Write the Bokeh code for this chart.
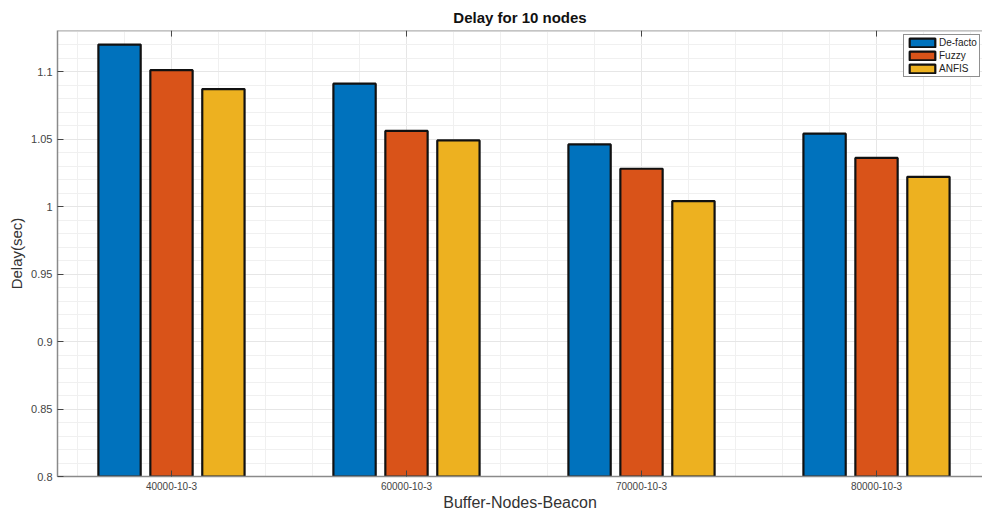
import numpy as np
from bokeh.plotting import figure
from bokeh.models import Range1d, FixedTicker, Legend, LegendItem, ColumnDataSource
from bokeh.embed import file_html
from bokeh.resources import INLINE

categories = ["40000-10-3", "60000-10-3", "70000-10-3", "80000-10-3"]
series_names = ["De-facto", "Fuzzy", "ANFIS"]
defacto = [1.120, 1.091, 1.046, 1.054]
fuzzy = [1.101, 1.056, 1.028, 1.036]
anfis = [1.087, 1.049, 1.004, 1.022]
colors = ["#0072BD", "#D95319", "#EDB120"]
y_ticks = [0.8, 0.85, 0.9, 0.95, 1.0, 1.05, 1.1]
y_tick_labels = ["0.8", "0.85", "0.9", "0.95", "1", "1.05", "1.1"]

FONT = "Liberation Sans"
Y0, Y1 = 0.8, 1.1304

p = figure(width=982, height=513, output_backend="svg", toolbar_location=None,
           x_range=Range1d(0.515, 4.451), y_range=Range1d(Y0, Y1),
           min_border_left=57, min_border_right=0, min_border_top=30, min_border_bottom=37,
           background_fill_color="white", border_fill_color="white")

p.title.text = "Delay for 10 nodes"
p.title.align = "center"
p.title.text_font = FONT
p.title.text_font_size = "15px"
p.title.text_font_style = "bold"
p.title.text_color = "#111111"

p.xgrid.grid_line_color = "#e6e6e6"
p.ygrid.grid_line_color = "#e6e6e6"
p.xgrid.minor_grid_line_color = "#f0f0f0"
p.ygrid.minor_grid_line_color = "#f0f0f0"

pos = np.arange(1, len(categories) + 1)
offsets = [-0.221, 0.0, 0.221]
items = []
for vals, name, col, off in zip([defacto, fuzzy, anfis], series_names, colors, offsets):
    src = ColumnDataSource(dict(x=pos + off, top=vals))
    r = p.vbar(x="x", top="top", bottom=0.0, width=0.18, source=src,
               fill_color=col, line_color="#111111", line_width=2.2)
    items.append(LegendItem(label=name, renderers=[r]))

# top box line with inward ticks (MATLAB "box on")
p.segment(x0=[0.515], x1=[4.451], y0=[Y1], y1=[Y1], line_color="#8a8a8a", line_width=1.5)
p.segment(x0=pos, x1=pos, y0=[Y1] * len(pos), y1=[Y1 - 0.0045] * len(pos),
          line_color="#444444", line_width=1)

xa = p.xaxis[0]
xa.ticker = FixedTicker(ticks=list(pos), minor_ticks=list(np.round(np.arange(0.6, 4.45, 0.2), 2)))
xa.major_label_overrides = {int(i): c for i, c in zip(pos, categories)}
xa.axis_label = "Buffer-Nodes-Beacon"
ya = p.yaxis[0]
ya.ticker = FixedTicker(ticks=y_ticks, minor_ticks=list(np.round(np.arange(0.8, 1.131, 0.01), 3)))
ya.major_label_overrides = {t: l for t, l in zip(y_ticks, y_tick_labels)}
ya.axis_label = "Delay(sec)"
for ax in (xa, ya):
    ax.axis_line_color = "#8a8a8a"
    ax.axis_line_width = 1.5
    ax.major_tick_in = 6
    ax.major_tick_out = 0
    ax.minor_tick_in = 0
    ax.minor_tick_out = 0
    ax.major_tick_line_color = "#444444"
    ax.major_label_text_font = FONT
    ax.major_label_text_color = "#444444"
    ax.axis_label_text_font = FONT
    ax.axis_label_text_font_style = "normal"
    ax.axis_label_text_color = "#333333"
xa.major_label_text_font_size = "10px"
ya.major_label_text_font_size = "11px"
xa.axis_label_text_font_size = "16px"
ya.axis_label_text_font_size = "15px"
xa.major_label_standoff = 5
xa.axis_label_standoff = 1
ya.major_label_standoff = 5
ya.axis_label_standoff = 3

p.outline_line_color = None

legend = Legend(items=items, location=(846, 399),
                label_text_font=FONT, label_text_font_size="10px", label_text_color="#222222",
                glyph_width=32, glyph_height=11, label_height=11, spacing=2, padding=2,
                label_standoff=1, border_line_color="#222222", border_line_width=1,
                background_fill_color="white", background_fill_alpha=1.0)
p.add_layout(legend)

open("out.html", "w").write(file_html(p, INLINE))
